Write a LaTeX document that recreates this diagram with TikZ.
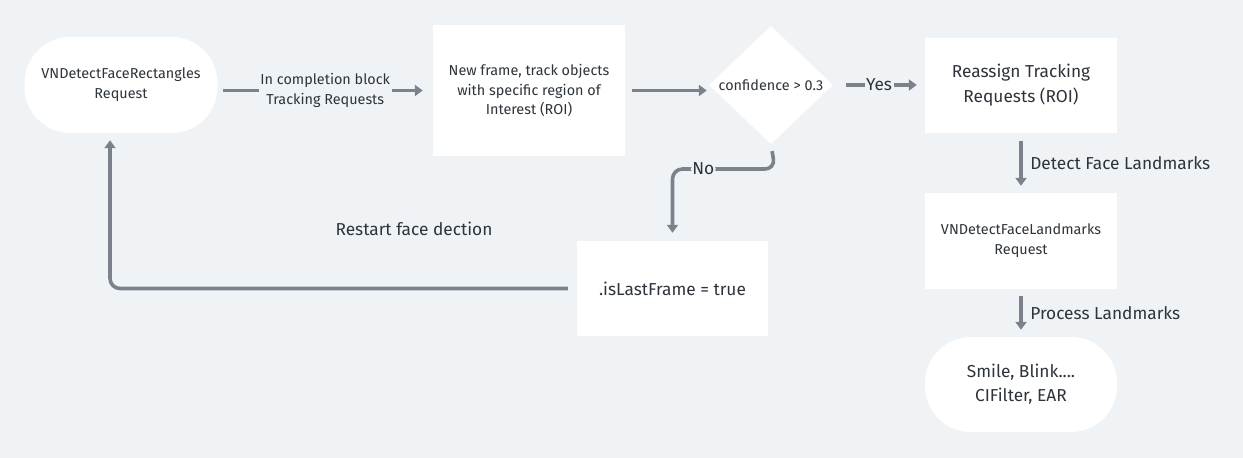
\documentclass[tikz,border=0pt]{standalone}
\usepackage{fontspec}
\setmainfont{Fira Sans}
\usetikzlibrary{arrows.meta,shapes.geometric}
\definecolor{bg}{HTML}{F0F3F6}
\definecolor{ln}{HTML}{7B828C}
\definecolor{tx}{HTML}{2E343B}
\tikzset{
  box/.style={fill=white, draw=none, text=tx, align=center, inner sep=0pt},
  pill/.style={box, rounded corners=46pt},
  arr/.style={draw=ln, line width=3.6pt, -{Triangle[width=11pt,length=8pt]}},
  lab/.style={text=tx, inner sep=1.5pt},
  s13/.style={font=\fontsize{14.4}{19.8}\selectfont},
  s15/.style={font=\fontsize{17.3}{24.2}\selectfont},
  s12/.style={font=\fontsize{14.4}{20}\selectfont},
}
\begin{document}
\begin{tikzpicture}[x=1pt,y=-1pt]
\fill[bg] (0,0) rectangle (1243,458);
\useasboundingbox (0,0) rectangle (1243,458);

\node[pill, s13, minimum width=193pt, minimum height=96pt] (A) at (121,85) {VNDetectFaceRectangles\\Request};
\node[box, s13, minimum width=192pt, minimum height=131pt] (B) at (529,90.5) {New frame, track objects\\with specific region of\\Interest (ROI)};
\node[diamond, fill=white, inner sep=0pt, minimum width=124pt, minimum height=118pt] (C) at (771,85) {};
\node[lab, s13] (Ct) at (C) {confidence > 0.3};
\node[box, s15, minimum width=192pt, minimum height=95pt] (D) at (1021,85) {Reassign Tracking\\Requests (ROI)};
\node[box, s12, minimum width=192pt, minimum height=96pt] (E) at (1021,241) {VNDetectFaceLandmarks\\Request};
\node[pill, s15, minimum width=192pt, minimum height=95pt] (F) at (1021,384.5) {Smile, Blink....\\CIFilter, EAR};
\node[box, s15, minimum width=191pt, minimum height=95pt] (G) at (672.5,288.5) {.isLastFrame = true};

\draw[arr, shorten <=5pt, shorten >=10pt] (A.east |- B.west) -- node[lab, s13, fill=bg, align=center] {In completion block\\Tracking Requests} (B.west);
\draw[arr, shorten <=7pt, shorten >=2pt] (B.east) -- (B.east -| C.west);
\draw[arr, shorten <=13pt, shorten >=8pt] (C.east) -- node[lab, s15, fill=bg, pos=0.5] {Yes} (D.west);
\draw[arr, shorten <=8pt, shorten >=7pt] (D.south) -- node[lab, s15, right=6pt] {Detect Face Landmarks} (E.north);
\draw[arr, shorten <=7pt, shorten >=7pt] (E.south) -- node[lab, s15, right=6pt] {Process Landmarks} (F.north);

\coordinate (nob) at (775,169);
\draw[arr, rounded corners=10pt, shorten <=7pt, shorten >=8pt] (C.south) -- (nob) -| node[lab, s15, fill=bg, pos=0.35] {No} (G.north);

\coordinate (rc) at (110,288.5);
\draw[arr, rounded corners=10pt, shorten <=9pt, shorten >=7pt] (G.west) -- (rc) -- (rc |- A.south);
\node[lab, s15] (R) at (414,229) {Restart face dection};
\end{tikzpicture}
\end{document}
